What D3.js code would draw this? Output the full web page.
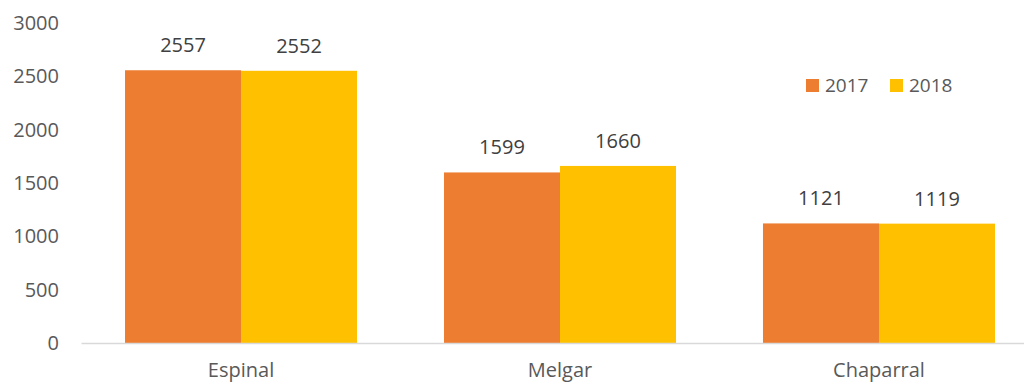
<!DOCTYPE html>
<html>
<head>
<meta charset="utf-8">
<script src="https://cdn.jsdelivr.net/npm/d3@7"></script>
<style>
  body { margin: 0; background: #fff; }
  svg { display: block; font-family: "Open Sans", "Liberation Sans", sans-serif; }
</style>
</head>
<body>
<svg id="chart" width="1024" height="383"></svg>
<script>
// Data
const categories = ["Espinal", "Melgar", "Chaparral"];
const seriesNames = ["2017", "2018"];
const values2017 = [2557, 1599, 1121];
const values2018 = [2552, 1660, 1119];
const yTicks = [0, 500, 1000, 1500, 2000, 2500, 3000];

const colors = { "2017": "#ED7D31", "2018": "#FFC000" };
const seriesValues = { "2017": values2017, "2018": values2018 };

const svg = d3.select("#chart");

// plot area (extends past the right edge like the original crop)
const MARGIN = { left: 81.5, top: 23, bottom: 343 };
const plotWidth = 957;

const x = d3.scaleBand()
  .domain(categories)
  .range([MARGIN.left, MARGIN.left + plotWidth])
  .paddingInner(0.2727)
  .paddingOuter(0.1364);

const xs = d3.scaleBand()
  .domain(seriesNames)
  .range([0, x.bandwidth()]);

const y = d3.scaleLinear()
  .domain([0, 3000])
  .range([MARGIN.bottom, MARGIN.top]);

// y tick labels
svg.append("g")
  .selectAll("text")
  .data(yTicks)
  .join("text")
  .attr("x", 59)
  .attr("y", d => y(d))
  .attr("dy", "0.35em")
  .attr("text-anchor", "end")
  .style("font-size", "20px")
  .style("fill", "#595959")
  .text(d => d);

// bars
const groups = svg.append("g")
  .selectAll("g")
  .data(categories)
  .join("g")
  .attr("transform", d => `translate(${x(d)},0)`);

groups.selectAll("rect")
  .data((c, i) => seriesNames.map(s => ({ s, v: seriesValues[s][i] })))
  .join("rect")
  .attr("x", d => xs(d.s))
  .attr("y", d => y(d.v))
  .attr("width", xs.bandwidth())
  .attr("height", d => y(0) - y(d.v))
  .attr("fill", d => colors[d.s]);

// value labels
groups.selectAll("text")
  .data((c, i) => seriesNames.map(s => ({ s, v: seriesValues[s][i] })))
  .join("text")
  .attr("x", d => xs(d.s) + xs.bandwidth() / 2)
  .attr("y", d => y(d.v) - 18)
  .attr("text-anchor", "middle")
  .style("font-size", "20px")
  .style("fill", "#404040")
  .text(d => d.v);

// x axis line
svg.append("line")
  .attr("x1", MARGIN.left)
  .attr("x2", 1024)
  .attr("y1", y(0) + 0.5)
  .attr("y2", y(0) + 0.5)
  .style("stroke", "#D9D9D9")
  .style("stroke-width", 1.5);

// category labels, near the bottom edge
svg.append("g")
  .selectAll("text")
  .data(categories)
  .join("text")
  .attr("x", d => x(d) + x.bandwidth() / 2)
  .attr("y", 377)
  .attr("text-anchor", "middle")
  .style("font-size", "20px")
  .style("fill", "#595959")
  .text(d => d);

// legend
const legend = svg.append("g").attr("transform", "translate(806,79)");
const legendItems = legend.selectAll("g")
  .data(seriesNames)
  .join("g")
  .attr("transform", (d, i) => `translate(${i * 84},0)`);

legendItems.append("rect")
  .attr("width", 13)
  .attr("height", 13)
  .attr("fill", d => colors[d]);

legendItems.append("text")
  .attr("x", 19)
  .attr("y", 6.5)
  .attr("dy", "0.35em")
  .style("font-size", "19px")
  .style("fill", "#595959")
  .text(d => d);
</script>
</body>
</html>
